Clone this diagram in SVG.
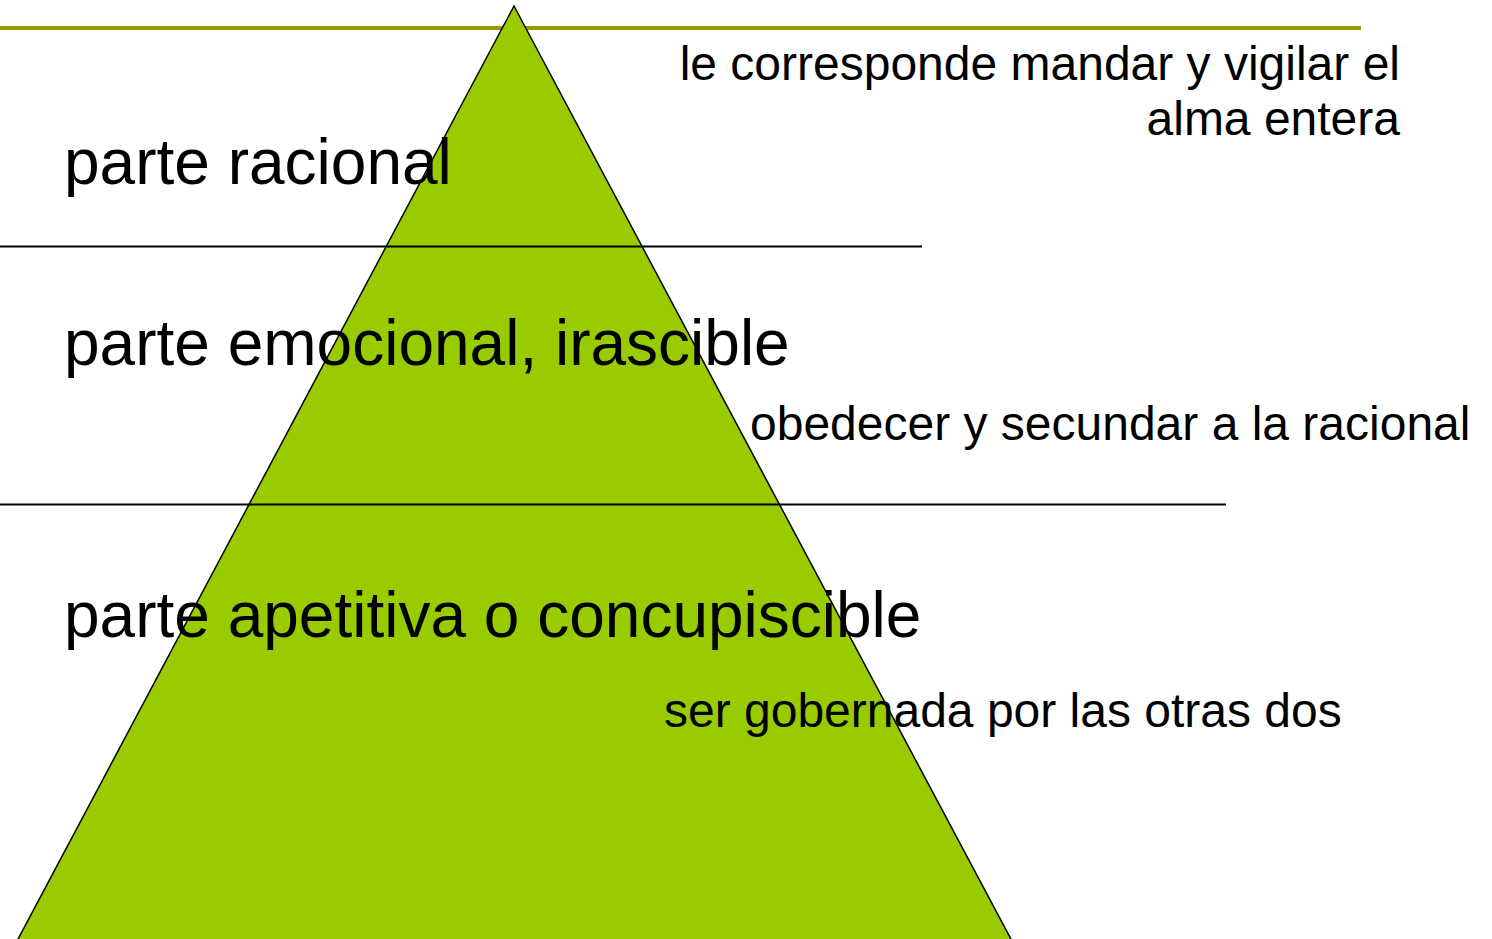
<svg xmlns="http://www.w3.org/2000/svg" width="1492" height="939" viewBox="0 0 1492 939">
<style>
.big{font-family:"Liberation Sans",Arial,sans-serif;font-size:64px;fill:#000}
.small{font-family:"Liberation Sans",Arial,sans-serif;font-size:48px;fill:#000}
.sep{stroke:#000;stroke-width:2}
</style>
<rect width="1492" height="939" fill="#fff"/>
<line x1="0" y1="28" x2="1361" y2="28" stroke="#999900" stroke-width="4"/>
<g id="piramide">
<polygon points="514,6 17,941 1012,941" fill="#99CC00" stroke="#000" stroke-width="1.5"/>
</g>
<g id="separadores">
<line class="sep" x1="0" y1="246.5" x2="922" y2="246.5"/>
<line class="sep" x1="0" y1="504.5" x2="1226" y2="504.5"/>
</g>
<g id="racional">
<text class="big" x="64" y="184">parte racional</text>
<text class="small" x="1400" y="80" text-anchor="end">le corresponde mandar y vigilar el</text>
<text class="small" x="1400" y="135" text-anchor="end">alma entera</text>
</g>
<g id="emocional">
<text class="big" x="64" y="365">parte emocional, irascible</text>
<text class="small" x="750" y="440">obedecer y secundar a la racional</text>
</g>
<g id="apetitiva">
<text class="big" x="64" y="637">parte apetitiva o concupiscible</text>
<text class="small" x="664" y="727">ser gobernada por las otras dos</text>
</g>
</svg>
